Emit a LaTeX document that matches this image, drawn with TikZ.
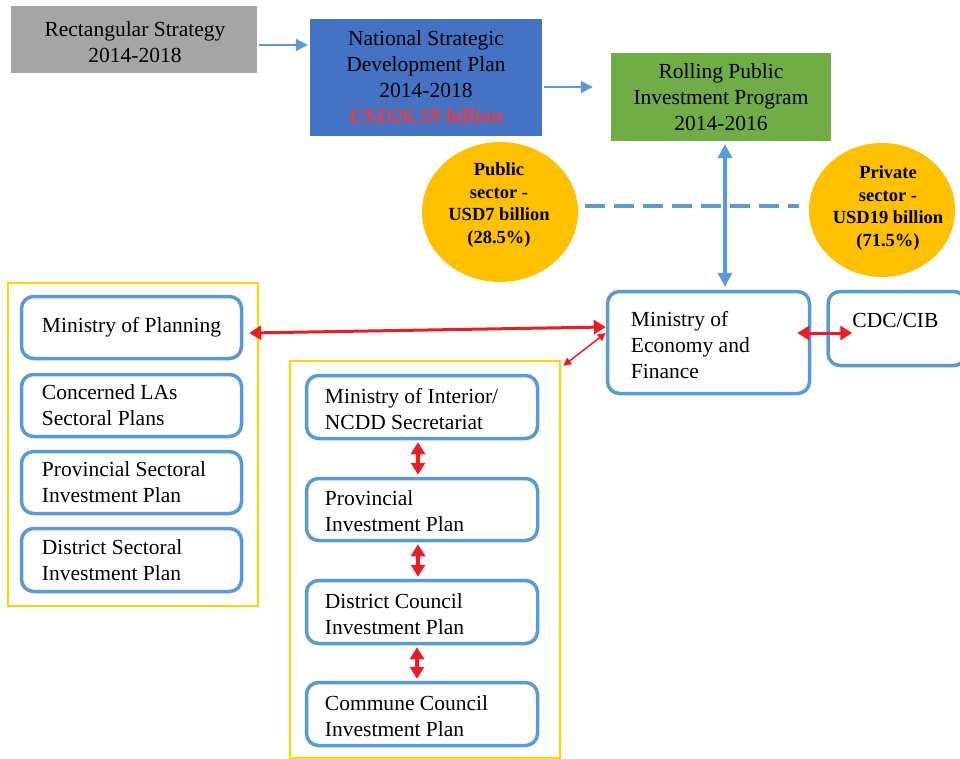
\documentclass[tikz,border=0pt]{standalone}
\usepackage{fontspec}
\setmainfont{Liberation Serif}
\usetikzlibrary{arrows.meta,shapes.geometric,calc}

\definecolor{boxgrey}{HTML}{A5A5A5}
\definecolor{boxblue}{HTML}{4472C4}
\definecolor{boxgreen}{HTML}{70AD47}
\definecolor{circgold}{HTML}{FFC000}
\definecolor{lineblue}{HTML}{5B9BD5}
\definecolor{frameyellow}{HTML}{FFD400}
\definecolor{linkred}{HTML}{ED1C24}
\definecolor{sumred}{HTML}{F03C3C}

\newcommand\bodytxt{\fontsize{21.5}{26}\selectfont}
\newcommand\circtxt{\fontsize{18.5}{22.5}\selectfont\bfseries}

\tikzset{
  fillbox/.style={draw=none, inner sep=0, align=center, font=\bodytxt},
  rbox/.style={draw=lineblue, line width=3.5pt, rounded corners=12pt, inner sep=0},
  groupframe/.style={draw=frameyellow, line width=2.5pt, inner sep=0},
  lbl/.style={inner sep=0, align=left, anchor=west, font=\bodytxt},
  blob/.style={ellipse, fill=circgold, draw=none, inner sep=0},
  blobtxt/.style={inner sep=0, align=center, font=\circtxt},
  flowarrow/.style={draw=lineblue, line width=2pt, -{Triangle[length=12pt,width=12pt]}},
  linkarrow/.style={draw=lineblue, line width=3.5pt, {Triangle[length=14pt,width=14pt]}-{Triangle[length=14pt,width=14pt]}},
  splitline/.style={draw=lineblue, line width=3.5pt, dash pattern=on 20pt off 9pt},
  redthick/.style={draw=linkred, line width=3pt, {Triangle[length=12pt,width=14pt]}-{Triangle[length=12pt,width=14pt]}},
  redthin/.style={draw=linkred, line width=1.5pt, {Triangle[length=8pt,width=8pt]}-{Triangle[length=8pt,width=8pt]}},
  redstep/.style={draw=linkred, line width=3.5pt, {Triangle[length=12pt,width=14pt]}-{Triangle[length=12pt,width=14pt]}},
}

\begin{document}
\begin{tikzpicture}[x=1pt, y=-1pt]
  \clip (0,0) rectangle (960,759);
  \fill[white] (0,0) rectangle (960,759);

  % planning chain along the top
  \node[fillbox, fill=boxgrey, minimum width=246pt, minimum height=67pt] (rs) at (134,39.5) {};
  \node[fillbox] (rstxt) at (135,42.5) {Rectangular Strategy\\2014-2018};
  \node[fillbox, fill=boxblue, minimum width=232pt, minimum height=117pt] (nsdp) at (426,77.5)
    {National Strategic\\Development Plan\\2014-2018\\{\color{sumred}\bfseries\itshape USD26.59 billion}};
  \node[fillbox, fill=boxgreen, minimum width=220pt, minimum height=88pt] (rpip) at (721,97)
    {Rolling Public\\Investment Program\\2014-2016};

  \draw[flowarrow] ($(rs.east)+(2,5.5)$) -- ($(nsdp.west|-rs.east)+(-2,5.5)$);
  \draw[flowarrow] ($(nsdp.east)+(2,9.5)$) -- ($(rpip.west|-nsdp.east)+(-18,9.5)$);

  % funding split
  \node[blob, minimum width=156pt, minimum height=140pt] (pub) at (500,212) {};
  \node[blobtxt] (pubtxt) at (499,205) {Public\\sector -\\USD7 billion\\(28.5\%)};
  \node[blob, minimum width=146pt, minimum height=134pt] (priv) at (882,210) {};
  \node[blobtxt] (privtxt) at (888,208) {Private\\sector -\\USD19 billion\\(71.5\%)};
  \draw[splitline] ($(pub.east)+(7,-6)$) -- ($(priv.west)+(-10,-4)$);

  % finance ministry and investment board
  \node[rbox, minimum width=202pt, minimum height=102pt] (mef) at (708.5,342.5) {};
  \node[lbl] (meftxt) at ($(mef.west)+(25,3)$) {Ministry of\\Economy and\\Finance};
  \node[rbox, minimum width=138pt, minimum height=74pt] (cdc) at (897,328.5) {};
  \node[lbl] (cdctxt) at ($(cdc.west)+(26,-8)$) {CDC/CIB};

  \coordinate (vtop) at ($(rpip.south)+(4,3)$);
  \coordinate (vbot) at ($(vtop|-mef.north)+(0,-3)$);
  \draw[linkarrow] (vtop) -- (vbot);

  % sectoral planning group
  \node[groupframe, minimum width=250pt, minimum height=323pt] (leftgrp) at (133,444.5) {};
  \node[rbox, minimum width=220pt, minimum height=62pt] (mop) at (131.5,327.5) {};
  \node[lbl] (moptxt) at ($(mop.west)+(22,0)$) {Ministry of Planning};
  \node[rbox, minimum width=220pt, minimum height=62pt] (las) at (131.5,405.5) {};
  \node[lbl] (lastxt) at ($(las.west)+(22,0)$) {Concerned LAs\\Sectoral Plans};
  \node[rbox, minimum width=220pt, minimum height=62pt] (psip) at (131.5,482.5) {};
  \node[lbl] (psiptxt) at ($(psip.west)+(22,0)$) {Provincial Sectoral\\Investment Plan};
  \node[rbox, minimum width=220pt, minimum height=63pt] (dsip) at (131.5,560) {};
  \node[lbl] (dsiptxt) at ($(dsip.west)+(22,0)$) {District Sectoral\\Investment Plan};

  % sub-national planning group
  \node[groupframe, minimum width=270pt, minimum height=397pt] (midgrp) at (425,559.5) {};
  \node[rbox, minimum width=231pt, minimum height=63pt] (moi) at (422,407) {};
  \node[lbl] (moitxt) at ($(moi.west)+(20,2)$) {Ministry of Interior/\\NCDD Secretariat};
  \node[rbox, minimum width=231pt, minimum height=62pt] (pip) at (422,509.5) {};
  \node[lbl] (piptxt) at ($(pip.west)+(20,2)$) {Provincial\\Investment Plan};
  \node[rbox, minimum width=231pt, minimum height=63pt] (dcip) at (422,612) {};
  \node[lbl] (dciptxt) at ($(dcip.west)+(20,2)$) {District Council\\Investment Plan};
  \node[rbox, minimum width=231pt, minimum height=63pt] (ccip) at (422,714) {};
  \node[lbl] (cciptxt) at ($(ccip.west)+(20,2)$) {Commune Council\\Investment Plan};

  % coordination links
  \draw[redthick] ($(mop.east)+(6,5.5)$) -- ($(mef.west)+(0,-15.5)$);
  \draw[redthin] ($(mef.west)+(0,-9.5)$) -- ($(midgrp.north east)+(2,6)$);
  \draw[redthick] ($(mef.east)+(-14,-9.5)$) -- ($(cdc.west)+(26,4.5)$);

  \draw[redstep] ($(moi.south)+(-4,2)$) -- ($(pip.north)+(-4,-2)$);
  \draw[redstep] ($(pip.south)+(-4,2)$) -- ($(dcip.north)+(-4,-2)$);
  \draw[redstep] ($(dcip.south)+(-5,2)$) -- ($(ccip.north)+(-5,-2)$);
\end{tikzpicture}
\end{document}
